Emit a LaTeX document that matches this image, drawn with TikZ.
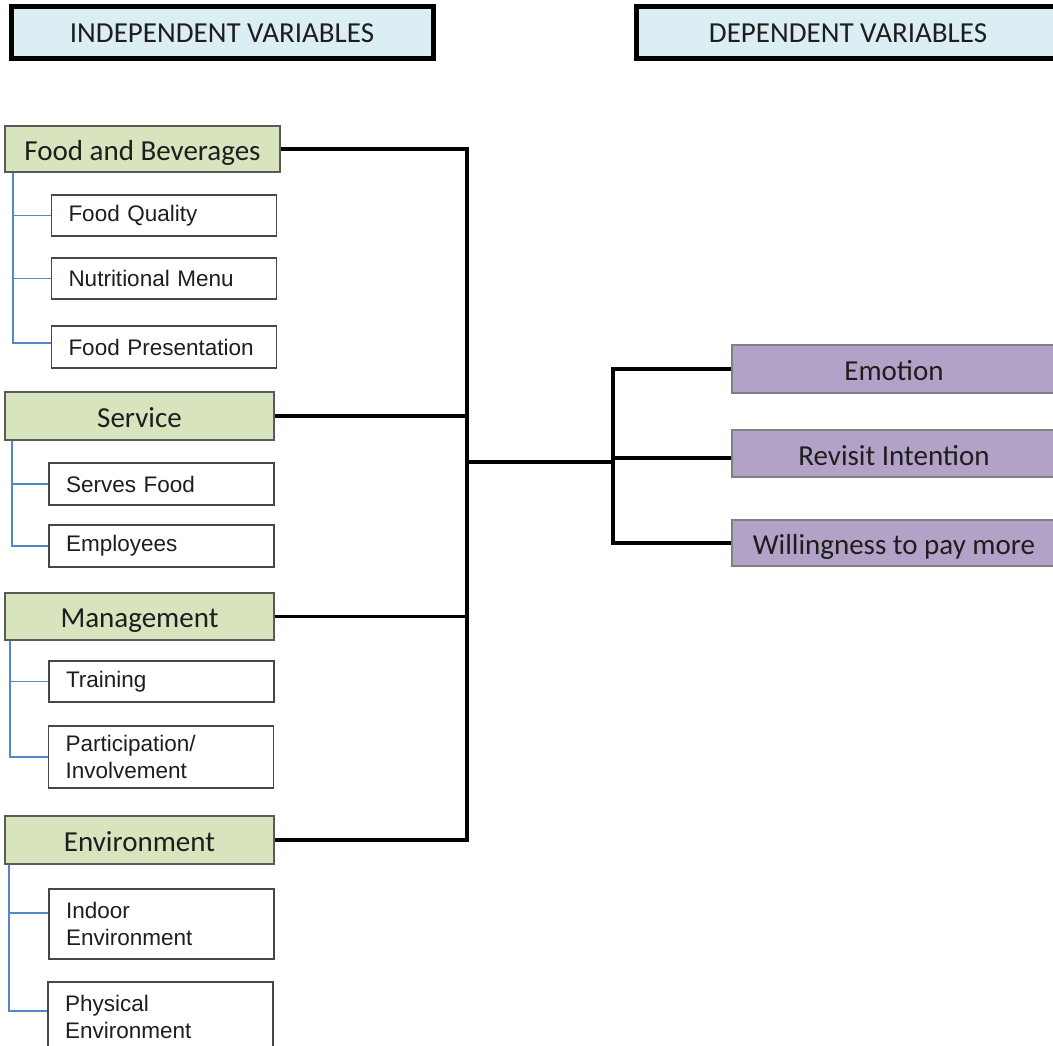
\documentclass[tikz,border=0pt]{standalone}
\usepackage{fontspec}
\setmainfont{Liberation Sans}
\newfontfamily\calfont{Carlito}
\newfontfamily\arfont{Liberation Sans}
\definecolor{hdrblue}{RGB}{219,238,244}
\definecolor{grnfill}{RGB}{215,228,189}
\definecolor{purfill}{RGB}{179,162,199}
\definecolor{boxline}{RGB}{89,89,89}
\definecolor{bluelink}{RGB}{84,135,200}
\definecolor{txt}{RGB}{30,30,30}
\begin{document}
\begin{tikzpicture}[x=1pt,y=-1pt,
  hdr/.style={draw=black, line width=5pt, fill=hdrblue, inner sep=0pt, minimum height=52pt,
    text height=20pt, text depth=0pt,
    text=txt, font=\calfont\fontsize{29}{32}\selectfont},
  grn/.style={draw=boxline, line width=2pt, fill=grnfill, inner sep=0pt,
    text height=22pt, text depth=0pt,
    text=txt, font=\calfont\fontsize{29}{32}\selectfont},
  wht/.style={draw=boxline!80!black, line width=1.3pt, fill=white, inner xsep=17pt, inner ysep=0pt,
    text width=191pt, align=left, text=txt, font=\arfont\fontsize{22.5}{26.5}\selectfont},
  pur/.style={draw=gray, line width=1.5pt, fill=purfill, inner sep=0pt, minimum width=324pt,
    text height=23pt, text depth=0pt,
    text=txt, font=\calfont\fontsize{29}{32}\selectfont},
  blk/.style={draw=black, line width=3.5pt},
  blu/.style={draw=bluelink, line width=1.2pt}]
\clip (0,0) rectangle (1053,1045);
\fill[white] (0,0) rectangle (1053,1045);

% headers
\node[hdr, minimum width=422pt] (ind) at (222,32) {INDEPENDENT VARIABLES};
\node[hdr, minimum width=424pt] (dep) at (848,32) {DEPENDENT VARIABLES};

% independent groups
\node[grn, minimum width=275pt, minimum height=46pt] (fb) at (142.5,149) {Food and Beverages};
\node[wht, minimum height=41pt] (fq) at (164,215.5) {Food Quality};
\node[wht, minimum height=41pt] (nm) at (164,278.5) {Nutritional Menu};
\node[wht, minimum height=42pt] (fp) at (164,347) {Food Presentation};

\node[grn, minimum width=269pt, minimum height=48pt] (sv) at (139.5,416) {Service};
\node[wht, minimum height=42pt] (sf) at (161.5,484) {Serves Food};
\node[wht, minimum height=42pt] (em) at (161.5,546) {Employees};

\node[grn, minimum width=269pt, minimum height=47pt] (mg) at (139.5,616.5) {Management};
\node[wht, minimum height=41pt] (tr) at (161.5,681.5) {Training};
\node[wht, minimum height=62pt] (pi) at (161,757) {Participation/\\Involvement};

\node[grn, minimum width=269pt, minimum height=48pt] (en) at (139.5,840) {Environment};
\node[wht, minimum height=70pt] (ie) at (161.5,924) {Indoor\\Environment};
\node[wht, minimum height=70pt] (pe) at (160.5,1017) {Physical\\Environment};

% dependent
\node[pur, minimum height=48pt] (emo) at (894,369) {Emotion};
\node[pur, minimum height=47pt] (rev) at (894,453.5) {Revisit Intention};
\node[pur, minimum height=46pt] (wil) at (894,543) {Willingness to pay more};

% blue sub-connectors
\draw[blu] ([xshift=9pt]fb.south west) |- (fq.west);
\draw[blu] ([xshift=9pt]fb.south west) |- (nm.west);
\draw[blu] ([xshift=9pt]fb.south west) |- ([yshift=4pt]fp.west);
\draw[blu] ([xshift=8pt]sv.south west) |- (sf.west);
\draw[blu] ([xshift=8pt]sv.south west) |- (em.west);
\draw[blu] ([xshift=6pt]mg.south west) |- (tr.west);
\draw[blu] ([xshift=6pt]mg.south west) |- (pi.west);
\draw[blu] ([xshift=5pt]en.south west) |- ([yshift=11pt]ie.west);
\draw[blu] ([xshift=5pt]en.south west) |- ([yshift=6pt]pe.west);

% black trunk
\coordinate (T) at (467,0);
\coordinate (J) at (467,462);
\coordinate (K) at (613,462);
\draw[blk] (fb.east) -| (T |- en.east) -- (en.east);
\draw[blk] (sv.east) -- (sv.east -| T);
\draw[blk] (mg.east) -- (mg.east -| T);
\draw[blk, line width=3.2pt] (J) -- (K);
\draw[blk] (emo.west) -| (K |- wil.west) -- (wil.west);
\draw[blk, line width=3.2pt] ([yshift=-4.5pt]rev.west) -- ([yshift=-4.5pt]rev.west -| K);
\end{tikzpicture}
\end{document}
